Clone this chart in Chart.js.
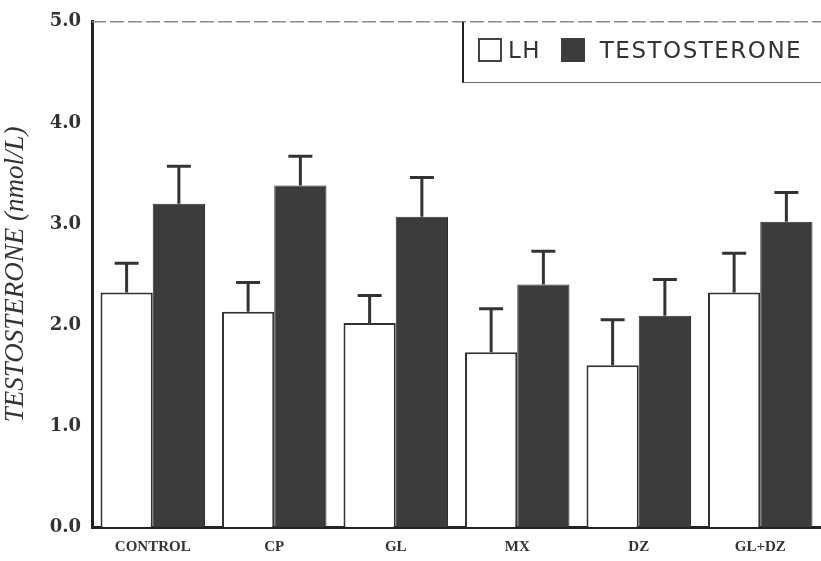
<!DOCTYPE html>
<html>
<head>
<meta charset="utf-8">
<script src="https://cdn.jsdelivr.net/npm/chart.js@4.4.0/dist/chart.umd.min.js"></script>
<style>
  html,body{margin:0;padding:0;background:#fff;}
  #wrap{position:relative;width:821px;height:561px;}
  #legend{position:absolute;left:462px;top:22px;width:380px;height:60px;border-left:2px solid #222;border-bottom:1px solid #666;
    font-family:"DejaVu Sans",sans-serif;font-size:23px;color:#333;letter-spacing:1.5px;}
  #legend .item{position:absolute;top:15px;}
  #legend .box{display:inline-block;width:24px;height:24px;vertical-align:-4px;margin-right:6px;box-sizing:border-box;}
</style>
</head>
<body>
<div id="wrap">
  <canvas id="chart" width="821" height="561"></canvas>
  <div id="legend">
    <span class="item" style="left:14px"><span class="box" style="border:2px solid #444;background:#fff"></span>LH</span>
    <span class="item" style="left:97px"><span class="box" style="background:#3c3c3c"></span> TESTOSTERONE</span>
  </div>
</div>
<script>
const groups = ['CONTROL','CP','GL','MX','DZ','GL+DZ'];
const lh = [2.32, 2.13, 2.02, 1.73, 1.60, 2.32];
const lhErr = [0.29, 0.29, 0.27, 0.43, 0.45, 0.39];
const testo = [3.20, 3.38, 3.07, 2.40, 2.09, 3.02];
const testoErr = [0.37, 0.29, 0.39, 0.33, 0.36, 0.29];
const yTicks = ['0.0','1.0','2.0','3.0','4.0','5.0'];

const errorBars = {
  id:'errorBars',
  afterDatasetsDraw(chart){
    const ctx = chart.ctx, y = chart.scales.y;
    const errs = [lhErr, testoErr];
    chart.data.datasets.forEach((ds,i)=>{
      const meta = chart.getDatasetMeta(i);
      meta.data.forEach((bar,j)=>{
        const top = y.getPixelForValue(ds.data[j] + errs[i][j]);
        ctx.save();
        ctx.strokeStyle = '#333';
        ctx.lineWidth = 3;
        ctx.beginPath();
        ctx.moveTo(bar.x, bar.y);
        ctx.lineTo(bar.x, top);
        ctx.moveTo(bar.x-12, top);
        ctx.lineTo(bar.x+12, top);
        ctx.stroke();
        ctx.restore();
      });
    });
  },
  afterDraw(chart){
    const ctx = chart.ctx, a = chart.chartArea;
    ctx.save();
    ctx.strokeStyle = '#888';
    ctx.lineWidth = 1.5;
    ctx.setLineDash([14,4]);
    ctx.beginPath();
    ctx.moveTo(a.left, a.top);
    ctx.lineTo(a.right, a.top);
    ctx.stroke();
    ctx.restore();
  }
};

new Chart(document.getElementById('chart'), {
  type:'bar',
  data:{
    labels:groups,
    datasets:[
      {label:'LH', data:lh, backgroundColor:'#fff', borderColor:'#333', borderWidth:2,
       barPercentage:1.0, categoryPercentage:0.86},
      {label:'TESTOSTERONE', data:testo, backgroundColor:'#3c3c3c', borderColor:'#2e2e2e', borderWidth:1,
       barPercentage:1.0, categoryPercentage:0.86}
    ]
  },
  options:{
    responsive:false,
    animation:false,
    layout:{padding:{top:20, right:0, left:0, bottom:0}},
    plugins:{legend:{display:false}, tooltip:{enabled:false}},
    scales:{
      x:{
        grid:{display:false, drawTicks:false},
        border:{color:'#222', width:3},
        ticks:{color:'#333', padding:11, font:{family:'"Liberation Serif", serif', size:15, weight:'bold'}},
        afterFit(s){ s.height = 34; }
      },
      y:{
        min:0, max:5,
        grid:{display:false, drawTicks:false},
        border:{color:'#222', width:3},
        ticks:{stepSize:1, color:'#333', padding:11,
          font:{family:'"DejaVu Serif", serif', size:18, weight:'bold'},
          callback:(v,i)=>yTicks[i]},
        title:{display:true, text:'TESTOSTERONE (nmol/L)', color:'#333',
          font:{family:'"Liberation Serif", serif', size:27, style:'italic'}, padding:{top:0,bottom:4}},
        afterFit(s){ s.width = 92; }
      }
    }
  },
  plugins:[errorBars]
});
</script>
</body>
</html>
